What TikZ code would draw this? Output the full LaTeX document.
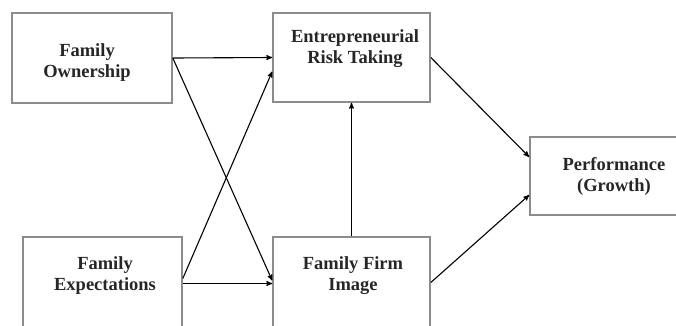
\documentclass[tikz,border=0pt]{standalone}
\usepackage{fontspec}
\setmainfont{Liberation Serif}
\usetikzlibrary{arrows}

\begin{document}
\begin{tikzpicture}[->,>=stealth',x=1pt,y=-1pt,
  box/.style={draw=black!45,line width=1.6pt,inner sep=0pt},
  boxtext/.style={align=center,font=\fontsize{18.5}{21}\selectfont\bfseries,text=black!85},
  link/.style={line width=1.1pt}]

\useasboundingbox (0,0) rectangle (676,325);

% boxes
\node[box,minimum width=160pt,minimum height=90pt] (fo) at (92,58) {};
\node[box,minimum width=157pt,minimum height=89pt] (ert) at (351.5,57.5) {};
\node[box,minimum width=159pt,minimum height=103pt] (fe) at (102.5,288.5) {};
\node[box,minimum width=157pt,minimum height=103pt] (ffi) at (351.5,288.5) {};
\node[box,minimum width=168pt,minimum height=78pt] (perf) at (614,176) {};

% texts
\node[boxtext] (fo-t) at (87,63) {Family\\Ownership};
\node[boxtext] (ert-t) at (355,49) {Entrepreneurial\\Risk Taking};
\node[boxtext] (fe-t) at (105,276) {Family\\Expectations};
\node[boxtext] (ffi-t) at (353,276) {Family Firm\\Image};
\node[boxtext] (perf-t) at (614,176) {Performance\\(Growth)};

% paths
\draw[link] (fo.east) -- (ert.west);
\draw[link] (fo.east) -- ([yshift=8pt]ffi.west);
\draw[link] ([yshift=10pt]fe.east) -- ([yshift=-14pt]ert.west);
\draw[link] ([yshift=5pt]fe.east) -- ([yshift=5pt]ffi.west);
\draw[link] (ffi.north) -- (ert.south);
\draw[link] (ert.east) -- ([yshift=19pt]perf.west);
\draw[link] ([yshift=6pt]ffi.east) -- ([yshift=-19pt]perf.west);

\end{tikzpicture}
\end{document}
